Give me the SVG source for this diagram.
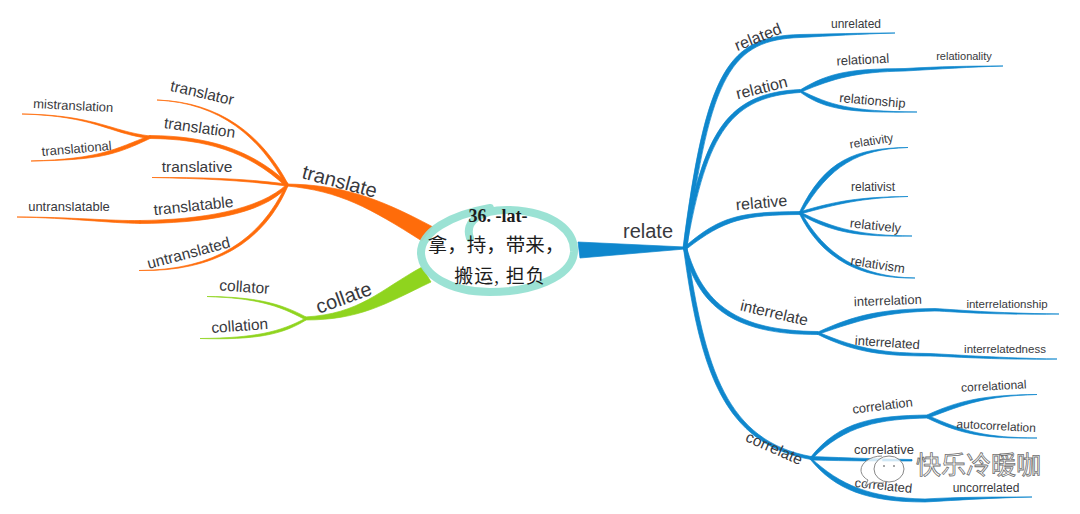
<svg xmlns="http://www.w3.org/2000/svg" width="1080" height="514" viewBox="0 0 1080 514">
<style>
text{font-family:"Liberation Sans",Arial,sans-serif;fill:#38393d;text-anchor:middle}
.c{font-family:"Liberation Serif","Noto Sans CJK SC",serif;fill:#1c1c1c}
.o{fill:#ff6c0a;stroke:#ff6c0a;stroke-width:.7}
.g{fill:#8fd41e;stroke:#8fd41e;stroke-width:.7}
.b{fill:#0f87cd;stroke:#0f87cd;stroke-width:.7}
.s1{font-size:20px}.s2{font-size:15.5px}.s3{font-size:13px}.s4{font-size:12px}
.wm{font-family:"Noto Sans CJK SC",sans-serif;font-size:25px;fill:#fff;fill-opacity:.75;stroke:#6f6f6f;stroke-width:.8;text-anchor:start}
</style>
<rect width="1080" height="514" fill="#fff"/>
<g id="connectors">
<path class="o" d="M287 184C340 185 375 196 433 227L422 241C370 208 340 191 287 186Z"/>
<path class="o" d="M288 184C262 135 220 102 157 100C220 103 260 137 286 186Z"/>
<path class="o" d="M288 183.500C250 148 205 136 150 135.500L150 138.500C205 139 248 151 286 186.500Z"/>
<path class="o" d="M150 136C110 131 95 115 22 114C95 116 108 133 149 138.500Z"/>
<path class="o" d="M150 135.500C115 149 100 159 31 161C100 160 115 155 150 138.500Z"/>
<path class="o" d="M287 184C240 178 200 177.500 152 177.500C200 178.500 240 180 287 186Z"/>
<path class="o" d="M287 184C260 210 200 220 140 220.500L140 223.500C200 223 262 216 288 186Z"/>
<path class="o" d="M140 220.500C110 221 70 217 17 217C70 218 110 223 140 223.500Z"/>
<path class="o" d="M286 185C260 240 215 270 139 270.500C215 272 264 242 288 186Z"/>
<path class="g" d="M305 317C360 314 380 290 422 267L431 282C385 304 360 320 305 320Z"/>
<path class="g" d="M306 317C280 303 255 297 207 296.500C255 298 278 305 304 319Z"/>
<path class="g" d="M306 318C280 332 255 338 200 338.500C255 340 282 335 306 320Z"/>
<path class="b" d="M578 242L685 247L685 249L580 258Z"/>
<path class="b" d="M683 248C706 70 728 36.500 800 34.500C830 34 860 33 895 33C860 34 830 36 800 37.500C732 40 710 72 687 248Z"/>
<path class="b" d="M683.500 248C703 130 728 93 800 89.500L800 92.500C732 97 707 130 686.500 248Z"/>
<path class="b" d="M800 90C830 72 850 69 905 68.500C940 66.500 970 66 1003 66C970 67 940 69 905 71C855 72 835 78 801 92Z"/>
<path class="b" d="M800 90C830 105 850 111.500 917 112C850 113 825 110 800 92Z"/>
<path class="b" d="M684.500 247C720 216 740 212 800 211.500L800 214.500C745 215 725 219 686.500 249Z"/>
<path class="b" d="M799.500 212C825 160 855 148 908 147.500C858 149 830 165 801 214Z"/>
<path class="b" d="M799.500 212C835 201 860 197 908 196.500C860 198 838 204 800 214Z"/>
<path class="b" d="M800 212C835 229 860 235.500 912 236C860 237 832 233 799.500 214Z"/>
<path class="b" d="M801 212C825 255 860 277 915 278C860 279 822 259 799.500 214Z"/>
<path class="b" d="M683.500 249C698 306 733 335 818 334.500L818 331.500C737 331 702 304 686.500 247Z"/>
<path class="b" d="M818 332C855 315 880 309 935 308.500C960 310 990 313 1059 314C990 315 960 312 935 311C885 312 860 320 819 334Z"/>
<path class="b" d="M818 332C860 350 885 353 930 353.500C960 355 1000 358 1057 359C1000 360 960 357 930 356C885 356 855 353 817 334Z"/>
<path class="b" d="M683.500 248C700 370 723 444 811 459.500L811 456.500C727 441 705 370 687 248Z"/>
<path class="b" d="M810 458C840 420 875 416 927 415L928 418C880 419 845 425 812 459Z"/>
<path class="b" d="M927 415C960 400 985 395 1037 394.500C985 396 965 404 928 418Z"/>
<path class="b" d="M927 415C965 432 985 437.500 1037 438C985 439 960 434 927 418Z"/>
<path class="b" d="M811 456.500C850 458 880 459 912 459.500L912 461C880 461 850 461 811 460Z"/>
<path class="b" d="M811 458C840 485 870 498 925 499C960 497 990 497 1032 497C990 498 960 500 925 502C868 502 835 490 810 459Z"/>
</g>
<g id="center">
<path d="M470 238C464 222 480 209 510 210C555 212 575 232 574 252C572 278 530 292 490 292C450 292 422 275 421 253C421 232 450 215 490 208" fill="none" stroke="#96e0d2" stroke-width="8" stroke-linecap="round" opacity=".95"/>
<text class="c" x="498" y="222" font-size="18" font-weight="bold">36. -lat-</text>
<text class="c" x="496" y="252" font-size="19.500">拿，持，带来，</text>
<text class="c" x="500" y="283" font-size="19" letter-spacing="1">搬运, 担负</text>
</g>
<g id="translate-tree">
<text class="s1" transform="translate(338 188) rotate(15)">translate</text>
<text class="s2" transform="translate(201 98) rotate(13)">translator</text>
<text class="s2" transform="translate(199 133) rotate(8)">translation</text>
<text class="s2" x="197" y="172">translative</text>
<text class="s2" transform="translate(194 211) rotate(-6)">translatable</text>
<text class="s2" transform="translate(190 258) rotate(-15)">untranslated</text>
<text class="s3" transform="translate(73 110) rotate(3)">mistranslation</text>
<text class="s3" transform="translate(77 153) rotate(-5)">translational</text>
<text class="s3" x="69" y="211">untranslatable</text>
</g>
<g id="collate-tree">
<text class="s1" transform="translate(346 304) rotate(-20)">collate</text>
<text class="s2" transform="translate(244 292) rotate(4)">collator</text>
<text class="s2" transform="translate(240 331) rotate(-4)">collation</text>
</g>
<g id="relate-tree">
<text class="s1" x="648" y="238">relate</text>
<text font-size="16" transform="translate(760 42) rotate(-22)">related</text>
<text font-size="16" transform="translate(763 93) rotate(-14)">relation</text>
<text font-size="16" transform="translate(762 208) rotate(-5)">relative</text>
<text font-size="15.500" transform="translate(773 318) rotate(13)">interrelate</text>
<text font-size="15.500" transform="translate(772 453) rotate(24)">correlate</text>
<text class="s4" x="856" y="28">unrelated</text>
<text class="s3" transform="translate(863 64) rotate(-3)">relational</text>
<text font-size="11" x="964" y="60">relationality</text>
<text class="s3" transform="translate(872 105) rotate(5)">relationship</text>
<text class="s4" transform="translate(872 145) rotate(-9)">relativity</text>
<text class="s4" x="873" y="191">relativist</text>
<text class="s3" transform="translate(875 230) rotate(6)">relatively</text>
<text class="s3" transform="translate(877 269) rotate(9)">relativism</text>
<text class="s3" transform="translate(888 305) rotate(-2)">interrelation</text>
<text font-size="11.500" x="1007" y="308">interrelationship</text>
<text class="s3" transform="translate(887 347) rotate(4)">interrelated</text>
<text font-size="11.500" x="1005" y="353">interrelatedness</text>
<text class="s4" transform="translate(994 390) rotate(-3)">correlational</text>
<text class="s4" transform="translate(996 430) rotate(3)">autocorrelation</text>
<text class="s3" transform="translate(883 410) rotate(-7)">correlation</text>
<text class="s3" x="884" y="454">correlative</text>
<text class="s3" transform="translate(883 490) rotate(6)">correlated</text>
<text class="s4" x="986" y="492">uncorrelated</text>
</g>
<g id="watermark">
<path d="M882 456C870 456 861 463 861 470C861 474 864 478 868 480L865 486L873 482C876 483 880 483 884 483" fill="#fff" fill-opacity=".8" stroke="#888" stroke-width="1"/>
<ellipse cx="889" cy="469" rx="15" ry="13" fill="#fff" fill-opacity=".8" stroke="#888" stroke-width="1"/>
<circle cx="884" cy="466" r="1" fill="#888"/><circle cx="894" cy="466" r="1" fill="#888"/>
<text class="wm" x="916" y="474">快乐冷暖咖</text>
</g>
</svg>
